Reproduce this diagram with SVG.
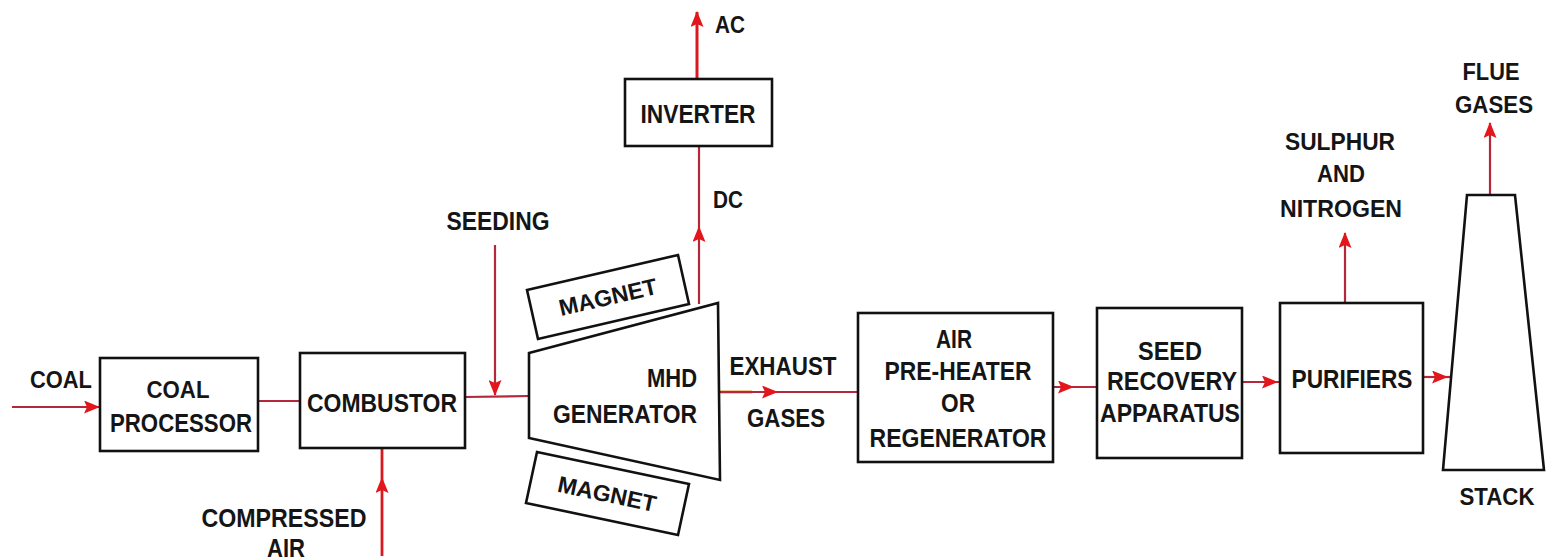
<svg xmlns="http://www.w3.org/2000/svg" width="1546" height="560" viewBox="0 0 1546 560">
<defs>
<style>
.box{fill:#fff;stroke:#111;stroke-width:2.6}
.t{font-family:"Liberation Sans",Arial,sans-serif;font-weight:bold;fill:#151515;text-anchor:middle}
.f23{font-size:23px}.f25{font-size:25px}.f26{font-size:26px}
.ln{fill:none;stroke:#b3283a;stroke-width:2.2}
</style>
<marker id="ah" viewBox="0 0 16 13" refX="15" refY="6.5" markerWidth="16" markerHeight="13" markerUnits="userSpaceOnUse" orient="auto">
<path d="M0,0 L16,6.5 L0,13 L3,6.5 Z" fill="#e3161c"/>
</marker>
</defs>
<rect width="1546" height="560" fill="#fff"/>

<g id="connectors">
<path class="ln" d="M12,407 L99,407" marker-end="url(#ah)"/>
<path class="ln" d="M258,401 L300,401"/>
<path class="ln" d="M465,397 L529,396"/>
<path class="ln" d="M495,245 L495,395" marker-end="url(#ah)"/>
<path class="ln" d="M382,556 L382,478 L382,448" marker-mid="url(#ah)" style="stroke:#d71a22;stroke-width:2.8"/>
<path class="ln" d="M699,304 L699,227 L699,146" marker-mid="url(#ah)"/>
<path class="ln" d="M697,79 L697,12" marker-end="url(#ah)" style="stroke:#d71a22;stroke-width:3"/>
<path d="M720,392 L752,392" stroke="#e8902a" stroke-width="3" fill="none"/>
<path class="ln" d="M720,392 L777,392 L858,392" marker-mid="url(#ah)"/>
<path class="ln" d="M1053,387 L1073,387 L1097,387" marker-mid="url(#ah)"/>
<path class="ln" d="M1242,382 L1277,382 L1280,382" marker-mid="url(#ah)"/>
<path class="ln" d="M1423,377 L1447,377 L1451,377" marker-mid="url(#ah)"/>
<path class="ln" d="M1345,303 L1345,233" marker-end="url(#ah)"/>
<path class="ln" d="M1490,195 L1490,123" marker-end="url(#ah)"/>
</g>

<g id="label-coal"><text class="t f23" x="61" y="388" textLength="62" lengthAdjust="spacingAndGlyphs">COAL</text></g>

<g id="coal-processor">
<rect class="box" x="100" y="358" width="158" height="93"/>
<text class="t f23" x="178" y="398" textLength="63" lengthAdjust="spacingAndGlyphs">COAL</text>
<text class="t f26" x="181" y="432" textLength="142" lengthAdjust="spacingAndGlyphs">PROCESSOR</text>
</g>

<g id="combustor">
<rect class="box" x="300" y="353" width="165" height="95"/>
<text class="t f26" x="382" y="412" textLength="150" lengthAdjust="spacingAndGlyphs">COMBUSTOR</text>
</g>

<g id="label-compressed-air">
<text class="t f26" x="284" y="527" textLength="165" lengthAdjust="spacingAndGlyphs">COMPRESSED</text>
<text class="t f26" x="286" y="557" textLength="38" lengthAdjust="spacingAndGlyphs">AIR</text>
</g>

<g id="label-seeding"><text class="t f25" x="498" y="230" textLength="103" lengthAdjust="spacingAndGlyphs">SEEDING</text></g>

<g id="magnet-top">
<polygon class="box" points="527,290 678,255 689,304 538,339"/>
<text class="t f23" x="0" y="0" transform="translate(608,297) rotate(-13) translate(0,8)" textLength="100" lengthAdjust="spacingAndGlyphs">MAGNET</text>
</g>

<g id="magnet-bottom">
<polygon class="box" points="537,452 689,484 678,535 526,503"/>
<text class="t f23" x="0" y="0" transform="translate(607,494) rotate(12) translate(0,8)" textLength="100" lengthAdjust="spacingAndGlyphs">MAGNET</text>
</g>

<g id="mhd-generator">
<polygon class="box" points="529,353 718,303 720,480 529,438"/>
<text class="t f26" x="697" y="387" style="text-anchor:end" textLength="50" lengthAdjust="spacingAndGlyphs">MHD</text>
<text class="t f26" x="697" y="423" style="text-anchor:end" textLength="144" lengthAdjust="spacingAndGlyphs">GENERATOR</text>
</g>

<g id="inverter">
<rect class="box" x="625" y="79" width="147" height="67"/>
<text class="t f26" x="698" y="123" textLength="115" lengthAdjust="spacingAndGlyphs">INVERTER</text>
</g>

<g id="label-ac"><text class="t f23" x="730" y="33" textLength="30" lengthAdjust="spacingAndGlyphs">AC</text></g>
<g id="label-dc"><text class="t f23" x="728" y="208" textLength="30" lengthAdjust="spacingAndGlyphs">DC</text></g>

<g id="label-exhaust-gases">
<text class="t f25" x="783" y="375" textLength="107" lengthAdjust="spacingAndGlyphs">EXHAUST</text>
<text class="t f25" x="786" y="427" textLength="78" lengthAdjust="spacingAndGlyphs">GASES</text>
</g>

<g id="air-preheater">
<rect class="box" x="858" y="313" width="195" height="149"/>
<text class="t f25" x="954" y="348" textLength="36" lengthAdjust="spacingAndGlyphs">AIR</text>
<text class="t f25" x="958" y="380" textLength="147" lengthAdjust="spacingAndGlyphs">PRE-HEATER</text>
<text class="t f25" x="958" y="412" textLength="34" lengthAdjust="spacingAndGlyphs">OR</text>
<text class="t f25" x="958" y="447" textLength="177" lengthAdjust="spacingAndGlyphs">REGENERATOR</text>
</g>

<g id="seed-recovery">
<rect class="box" x="1097" y="308" width="145" height="150"/>
<text class="t f25" x="1170" y="360" textLength="64" lengthAdjust="spacingAndGlyphs">SEED</text>
<text class="t f25" x="1172" y="390" textLength="130" lengthAdjust="spacingAndGlyphs">RECOVERY</text>
<text class="t f25" x="1170" y="422" textLength="140" lengthAdjust="spacingAndGlyphs">APPARATUS</text>
</g>

<g id="purifiers">
<rect class="box" x="1280" y="303" width="143" height="150"/>
<text class="t f25" x="1352" y="388" textLength="121" lengthAdjust="spacingAndGlyphs">PURIFIERS</text>
</g>

<g id="label-sulphur">
<text class="t f23" x="1340" y="150" textLength="110" lengthAdjust="spacingAndGlyphs">SULPHUR</text>
<text class="t f23" x="1341" y="182" textLength="48" lengthAdjust="spacingAndGlyphs">AND</text>
<text class="t f23" x="1341" y="217" textLength="122" lengthAdjust="spacingAndGlyphs">NITROGEN</text>
</g>

<g id="stack">
<polygon class="box" points="1467,195 1515,195 1544,470 1443,470"/>
<text class="t f23" x="1497" y="505" textLength="75" lengthAdjust="spacingAndGlyphs">STACK</text>
</g>

<g id="label-flue-gases">
<text class="t f23" x="1491" y="80" textLength="57" lengthAdjust="spacingAndGlyphs">FLUE</text>
<text class="t f23" x="1494" y="113" textLength="78" lengthAdjust="spacingAndGlyphs">GASES</text>
</g>
</svg>
